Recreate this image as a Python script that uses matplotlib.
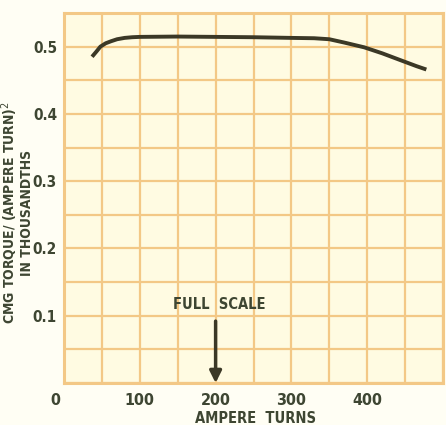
import matplotlib
matplotlib.use('Agg')
import matplotlib.pyplot as plt
import matplotlib.transforms as mtransforms
from matplotlib import font_manager
import numpy as np

# curve (ampere turns, torque / (ampere turn)^2 in thousandths)
amp_turns = [37, 43, 48, 55, 62, 70, 80, 90, 100, 150, 200, 250, 300, 330, 350, 370, 396, 420, 446, 465, 478]
torque = [0.485, 0.493, 0.500, 0.505, 0.508, 0.511, 0.513, 0.514, 0.5145, 0.515, 0.5145, 0.514, 0.513, 0.5125, 0.511, 0.506, 0.499, 0.490, 0.479, 0.471, 0.466]

x_ticks = [0, 100, 200, 300, 400]
x_tick_labels = ['0', '100', '200', '300', '400']
y_ticks = [0.1, 0.2, 0.3, 0.4, 0.5]
y_tick_labels = ['0.1', '0.2', '0.3', '0.4', '0.5']

full_scale = 200

grid_col = '#f3c886'
text_col = '#3e4632'

# look for a narrow bold face, otherwise plain DejaVu
font = 'DejaVu Sans'
stretch = 'normal'
for f in font_manager.fontManager.ttflist:
    if ('Narrow' in f.name or 'Condensed' in f.name or f.stretch in ('condensed', 'semi-condensed')) \
            and f.weight in (700, 'bold'):
        font = f.name
        stretch = f.stretch
        break
txt = dict(fontfamily=font, fontstretch=stretch, fontweight='bold', color=text_col)

fig = plt.figure(figsize=(4.46, 4.25), dpi=100, facecolor='#fffef4')
ax = fig.add_axes([0.1435, 0.0988, 0.8498, 0.8706])
ax.set_facecolor('#fffbe2')

ax.plot(amp_turns, torque, color='#3b3826', linewidth=2.8, solid_capstyle='butt', zorder=3)

ax.set_xlim(0, 500)
ax.set_ylim(0, 0.55)
ax.set_xticks(np.arange(0, 501, 50), minor=True)
ax.set_yticks(np.arange(0, 0.551, 0.05), minor=True)
ax.grid(which='both', color=grid_col, linewidth=1.6)
ax.set_axisbelow(True)
for sp in ax.spines.values():
    sp.set_color(grid_col)
    sp.set_linewidth(2.2)

ax.set_xticks(x_ticks)
ax.set_xticklabels(x_tick_labels, fontsize=11.5, **txt)
ax.set_yticks(y_ticks)
ax.set_yticklabels(y_tick_labels, fontsize=11, **txt)
ax.tick_params(which='both', length=0)
ax.tick_params(axis='x', pad=7)
ax.tick_params(axis='y', pad=5)

# the "0" sits a bit left of the origin
lbl0 = ax.get_xticklabels()[0]
lbl0.set_transform(lbl0.get_transform() + mtransforms.ScaledTranslation(-6 / 72, 0, fig.dpi_scale_trans))

fig.text(0.573, 0.033, 'AMPERE  TURNS', ha='center', va='top', fontsize=10.5, **txt)
fig.text(0.038, 0.50, 'CMG TORQUE/ (AMPERE TURN)$^2$\nIN THOUSANDTHS', rotation=90,
         ha='center', va='center', multialignment='center', linespacing=1.0,
         fontsize=10, **txt)

ax.text(205, 0.117, 'FULL  SCALE', ha='center', va='center', fontsize=10.5, **txt)
ax.annotate('', xy=(full_scale, 0.0), xytext=(full_scale, 0.092),
            arrowprops=dict(arrowstyle='-|>,head_width=0.35,head_length=0.7',
                            color='#3b3826', lw=2.5, shrinkA=0, shrinkB=0), zorder=4)

fig.savefig('out.png', dpi=100, facecolor=fig.get_facecolor())
